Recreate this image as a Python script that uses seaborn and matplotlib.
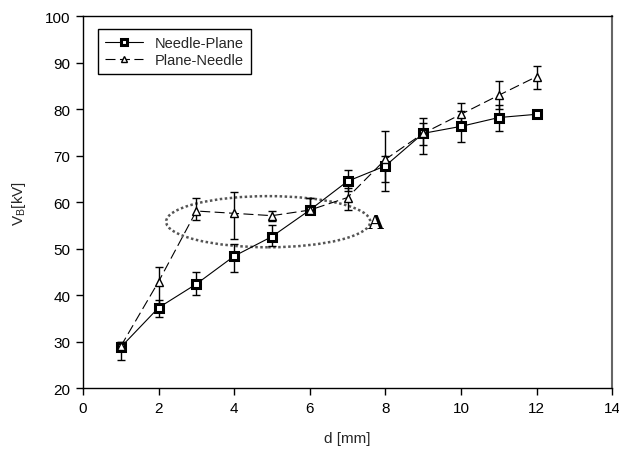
import numpy as np
import matplotlib
matplotlib.use('Agg')
import matplotlib.pyplot as plt
import seaborn as sns
from matplotlib.patches import Ellipse

# Data
gap_mm = [1, 2, 3, 4, 5, 6, 7, 8, 9, 10, 11, 12]

needle_plane = [28.8, 37.3, 42.4, 48.4, 52.6, 58.3, 64.5, 67.8, 74.8, 76.3, 78.2, 78.9]
needle_plane_lo = [26.0, 35.3, 40.0, 45.0, 50.5, 57.5, 62.5, 62.3, 70.3, 73.0, 75.3, 78.3]
needle_plane_hi = [30.0, 39.0, 45.0, 51.0, 55.0, 61.0, 67.0, 70.0, 78.2, 79.5, 81.0, 79.5]

plane_needle = [29.0, 42.9, 58.1, 57.6, 57.1, 58.3, 61.0, 69.2, 74.8, 78.9, 83.0, 87.0]
plane_needle_lo = [28.0, 38.0, 56.2, 52.0, 56.0, 57.5, 58.3, 64.3, 72.2, 76.5, 80.0, 84.3]
plane_needle_hi = [30.0, 46.0, 61.0, 62.2, 58.2, 61.0, 63.0, 75.3, 77.0, 81.3, 86.1, 89.2]

x_ticks = [0, 2, 4, 6, 8, 10, 12, 14]
y_ticks = [20, 30, 40, 50, 60, 70, 80, 90, 100]

sns.set_style('ticks')
plt.rcParams['font.family'] = ['Liberation Sans', 'DejaVu Sans']
plt.rcParams['mathtext.fontset'] = 'custom'
plt.rcParams['mathtext.rm'] = 'Liberation Sans'

fig = plt.figure(figsize=(6.19, 4.52), dpi=100)
ax = fig.add_axes([0.134, 0.139, 0.855, 0.823])

# error bars first so markers sit on top
for y, lo, hi in [(needle_plane, needle_plane_lo, needle_plane_hi),
                  (plane_needle, plane_needle_lo, plane_needle_hi)]:
    y = np.array(y)
    yerr = [y - np.array(lo), np.array(hi) - y]
    ax.errorbar(gap_mm, y, yerr=yerr, fmt='none', ecolor='black',
                elinewidth=1, capsize=3, capthick=1, zorder=2)

sns.lineplot(x=gap_mm, y=needle_plane, ax=ax, color='black', linewidth=0.8,
             marker='s', markersize=5.5, markerfacecolor='white',
             markeredgecolor='black', markeredgewidth=2.2,
             label='Needle-Plane', zorder=3)
sns.lineplot(x=gap_mm, y=plane_needle, ax=ax, color='black', linewidth=0.8,
             linestyle=(0, (9, 4)), marker='^', markersize=6,
             markerfacecolor='white', markeredgecolor='black',
             markeredgewidth=1, label='Plane-Needle', zorder=3)

# dotted ellipse marking region A
ax.add_patch(Ellipse((4.9, 55.8), width=5.4, height=11, fill=False,
                     linestyle=(0, (1, 1)), linewidth=1.8,
                     edgecolor='#555555', zorder=1))
ax.text(7.75, 55.5, 'A', family='Liberation Serif', fontweight='bold',
        fontsize=16, ha='center', va='center', color='black')

ax.set_xlim(0, 14)
ax.set_ylim(20, 100)
ax.set_xticks(x_ticks)
ax.set_yticks(y_ticks)
ax.tick_params(direction='out', length=5, width=1, labelsize=11,
               colors='black', pad=4)
for s in ax.spines.values():
    s.set_linewidth(1)
    s.set_color('black')
ax.spines['right'].set_color('#666666')
ax.spines['right'].set_linewidth(1.5)

ax.set_xlabel('d [mm]', fontsize=11, labelpad=12)
ax.set_ylabel(r'V$_\mathregular{B}$[kV]', fontsize=11, labelpad=12)

leg = ax.legend(loc='upper left', bbox_to_anchor=(0.028, 0.965),
                borderaxespad=0, fontsize=10.5, handlelength=2.6,
                fancybox=False, framealpha=1, edgecolor='black',
                borderpad=0.5, labelspacing=0.15, markerscale=0.8)
leg.get_frame().set_linewidth(1)

fig.savefig('out.png', dpi=100)
